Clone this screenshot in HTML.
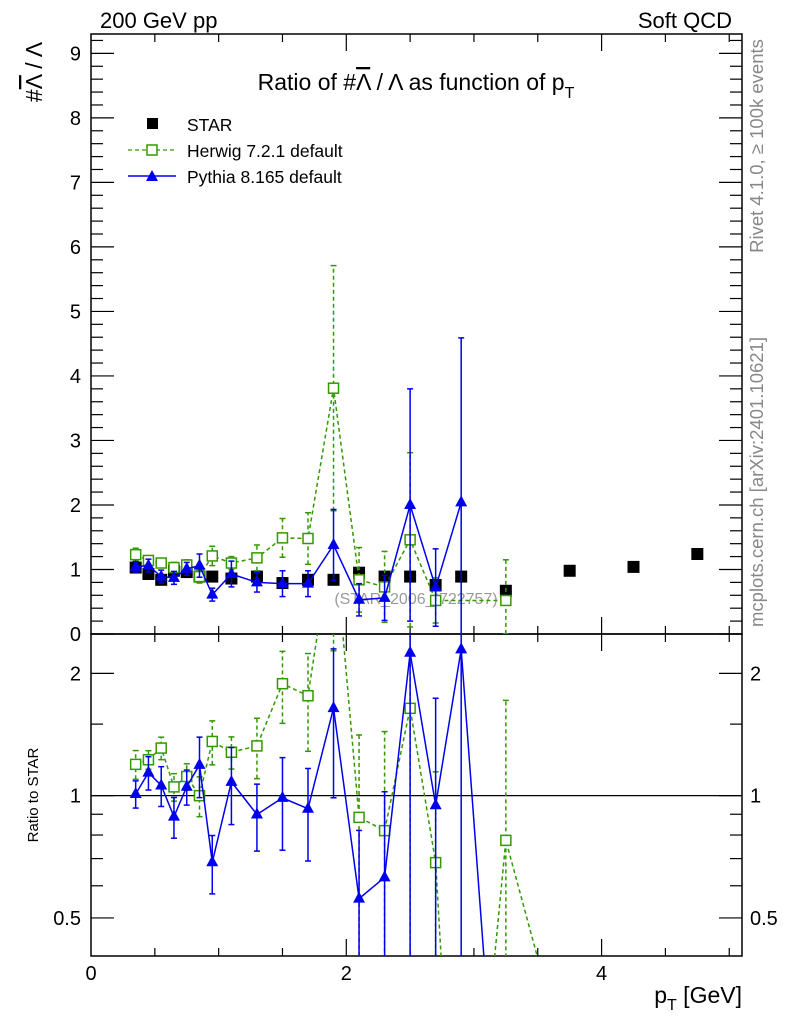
<!DOCTYPE html>
<html><head><meta charset="utf-8"><style>
body{margin:0;background:#fff;overflow:hidden;}
svg{display:block;font-family:"Liberation Sans",sans-serif;}
</style></head><body>
<svg id="c" width="786" height="1024" xmlns="http://www.w3.org/2000/svg">
<text x="100" y="28" font-size="22">200 GeV pp</text>
<text x="732" y="28" font-size="22" text-anchor="end">Soft QCD</text>
<text x="416" y="90" font-size="23" text-anchor="middle">Ratio of #<tspan text-decoration="overline">Λ</tspan> / Λ as function of p<tspan font-size="16" dy="8">T</tspan></text>
<text transform="translate(42,72) rotate(-90)" font-size="23" text-anchor="middle">#<tspan text-decoration="overline">Λ</tspan> / Λ</text>
<text transform="translate(38,795) rotate(-90)" font-size="15" text-anchor="middle">Ratio to STAR</text>
<text x="742" y="1003" font-size="23" text-anchor="end">p<tspan font-size="16" dy="7">T</tspan><tspan dy="-7"> [GeV]</tspan></text>
<text transform="translate(763,146) rotate(-90)" font-size="18.5" fill="#888" text-anchor="middle">Rivet 4.1.0, ≥ 100k events</text>
<text transform="translate(763,482) rotate(-90)" font-size="18.5" fill="#888" text-anchor="middle">mcplots.cern.ch [arXiv:2401.10621]</text>
<text x="416" y="604" font-size="16" fill="#999" text-anchor="middle">(STAR_2006_I722757)</text>
<g id="legend">
<rect x="147" y="118" width="11" height="11" fill="#000"/>
<text x="187" y="131" font-size="17.5">STAR</text>
<line x1="128" y1="150" x2="176" y2="150" stroke="#339900" stroke-width="1.3" stroke-dasharray="4,3"/>
<rect x="147" y="145" width="10" height="10" fill="#fff" stroke="#339900" stroke-width="1.5"/>
<text x="187" y="157" font-size="17.5">Herwig 7.2.1 default</text>
<line x1="128" y1="176" x2="176" y2="176" stroke="#0000ee" stroke-width="1.5"/>
<polygon points="152,170 158,181 146,181" fill="#0000ee"/>
<text x="187" y="183" font-size="17.5">Pythia 8.165 default</text>
</g>
</svg>
<script>
const xStar=[0.35,0.45,0.55,0.65,0.75,0.85,0.95,1.1,1.3,1.5,1.7,1.9,2.1,2.3,2.5,2.7,2.9,3.25,3.75,4.25,4.75];
const yStar=[1.03,0.93,0.84,0.98,0.96,0.89,0.89,0.86,0.89,0.79,0.84,0.84,0.95,0.89,0.89,0.76,0.89,0.67,0.98,1.04,1.24];
const xHerwig=[0.35,0.45,0.55,0.65,0.75,0.85,0.95,1.1,1.3,1.5,1.7,1.9,2.1,2.3,2.5,2.7,2.9,3.25,3.75];
const yHerwig=[1.23,1.14,1.10,1.03,1.07,0.89,1.21,1.10,1.18,1.49,1.48,3.81,0.84,0.73,1.46,0.52,0.05,0.52,0.2];
const eHerwig=[0.1,0.06,0.07,0.08,0.08,0.1,0.15,0.1,0.2,0.3,0.4,1.9,0.5,0.55,1.35,0.35,0,0.63,0];
const xPythia=[0.35,0.45,0.55,0.65,0.75,0.85,0.95,1.1,1.3,1.5,1.7,1.9,2.1,2.3,2.5,2.7,2.9,3.25];
const yPythia=[1.04,1.06,0.89,0.87,1.01,1.06,0.61,0.93,0.80,0.78,0.78,1.38,0.53,0.56,2.0,0.72,2.04,0.05];
const ePythia=[0.08,0.1,0.1,0.1,0.1,0.18,0.1,0.2,0.15,0.2,0.2,0.55,0.25,0.35,1.8,0.6,2.55,0];
const yMainTicks=[0,1,2,3,4,5,6,7,8,9];
const xTicks=[0,2,4];
const ratioTicks=[0.5,1,2];

const NS='http://www.w3.org/2000/svg', svg=document.getElementById('c');
const L=91,R=742,T=34,MB=634,RB=956;
const X=v=>L+v*(R-L)/5.1;
const Y=v=>MB-v*(MB-T)/9.3;
const rMin=0.403,rMax=2.5;
const YR=v=>MB+(Math.log(rMax)-Math.log(v))/(Math.log(rMax)-Math.log(rMin))*(RB-MB);
function el(t,a,p){const e=document.createElementNS(NS,t);for(const k in a)e.setAttribute(k,a[k]);(p||svg).appendChild(e);return e;}
const defs=el('defs',{});
const cm=el('clipPath',{id:'cm'},defs);el('rect',{x:L,y:T,width:R-L,height:MB-T},cm);
const cr=el('clipPath',{id:'cr'},defs);el('rect',{x:L,y:MB,width:R-L,height:RB-MB},cr);

let f=el('rect',{x:L,y:T,width:R-L,height:MB-T,fill:'none',stroke:'#000','stroke-width':1.5});

f=el('rect',{x:L,y:MB,width:R-L,height:RB-MB,fill:'none',stroke:'#000','stroke-width':1.5});

let ref=el('line',{x1:L,x2:R,y1:YR(1),y2:YR(1),stroke:'#000','stroke-width':1.2});


const tg=el('g',{stroke:'#000','stroke-width':1.2});

for(let v=0;v<=9.3001;v+=0.2){const maj=Math.abs(v-Math.round(v))<1e-6;const len=maj?23:12;const y=Y(v);
el('line',{x1:L,x2:L+len,y1:y,y2:y},tg);el('line',{x1:R,x2:R-len,y1:y,y2:y},tg);}
yMainTicks.forEach(v=>{const t=el('text',{x:L-10,y:Y(v)+7,'font-size':20,'text-anchor':'end'});t.textContent=v;
});
for(let v=0.5;v<=5.1;v+=0.5){const maj=Math.abs(v/2-Math.round(v/2))<1e-6;const len=maj?17:8;const x=X(v);
[[MB,-1],[RB,-1],[T,1],[MB,1]].forEach(([y0,s])=>el('line',{x1:x,x2:x,y1:y0,y2:y0+s*len},tg));}
xTicks.forEach(v=>{const t=el('text',{x:X(v),y:980,'font-size':20,'text-anchor':'middle'});t.textContent=v;
});
[0.5,0.6,0.7,0.8,0.9,1,1.5,2].forEach(v=>{const maj=ratioTicks.includes(v);const len=maj?23:12;const y=YR(v);
el('line',{x1:L,x2:L+len,y1:y,y2:y},tg);el('line',{x1:R,x2:R-len,y1:y,y2:y},tg);});
ratioTicks.forEach(v=>{[[L-10,'end'],[R+8,'start']].forEach(([x,a])=>{const t=el('text',{x:x,y:YR(v)+7,'font-size':20,'text-anchor':a});t.textContent=v;
});});

// main: skip points below threshold (and beyond maxX); ratio: keep all in line
function series(name,xs,ys,es,col,dash,marker,yf,clip,isMain,maxX){
 const g=el('g',{'clip-path':'url(#'+clip+')'});
 
 const idx=xs.map((x,i)=>i).filter(i=>xs[i]<=maxX && (!isMain || ys[i]>=0.1));
 const pts=idx.map(i=>X(xs[i])+','+yf(Math.max(ys[i],1e-3))).join(' ');
 const pl=el('polyline',{points:pts,fill:'none',stroke:col,'stroke-width':1.5,'stroke-dasharray':dash},g);
 
 idx.forEach(i=>{if(ys[i]<0.1||xs[i]>3.3)return;const cx=X(xs[i]),cy=yf(ys[i]);
  const lo=Math.max(ys[i]-es[i],1e-3),hi=ys[i]+es[i];
  const eb=el('line',{x1:cx,x2:cx,y1:yf(lo),y2:yf(hi),stroke:col,'stroke-width':1.5,'stroke-dasharray':dash},g);
  
  [lo,hi].forEach(v=>el('line',{x1:cx-3,x2:cx+3,y1:yf(v),y2:yf(v),stroke:col,'stroke-width':1.5},g));
  let m;
  if(marker==='sq'){m=el('rect',{x:cx-5,y:cy-5,width:10,height:10,fill:'#fff',stroke:col,'stroke-width':1.5},g);}
  else{m=el('polygon',{points:`${cx},${cy-7} ${cx+6},${cy+4} ${cx-6},${cy+4}`,fill:col},g);}
  
 });
}
const sg=el('g',{'clip-path':'url(#cm)'});

xStar.forEach((x,i)=>{const m=el('rect',{x:X(x)-6,y:Y(yStar[i])-6,width:12,height:12,fill:'#000'},sg);
});
const sv=x=>yStar[xStar.indexOf(x)];
series('herwig-main',xHerwig,yHerwig,eHerwig,'#339900','4,3','sq',Y,'cm',true,3.3);
series('pythia-main',xPythia,yPythia,ePythia,'#0000ee','','tri',Y,'cm',true,3.3);
series('herwig-ratio',xHerwig,yHerwig.map((v,i)=>v/sv(xHerwig[i])),eHerwig.map((v,i)=>v/sv(xHerwig[i])),'#339900','4,3','sq',YR,'cr',false,9);
series('pythia-ratio',xPythia,yPythia.map((v,i)=>v/sv(xPythia[i])),ePythia.map((v,i)=>v/sv(xPythia[i])),'#0000ee','','tri',YR,'cr',false,9);
svg.appendChild(document.getElementById('legend'));
</script>
</body></html>
